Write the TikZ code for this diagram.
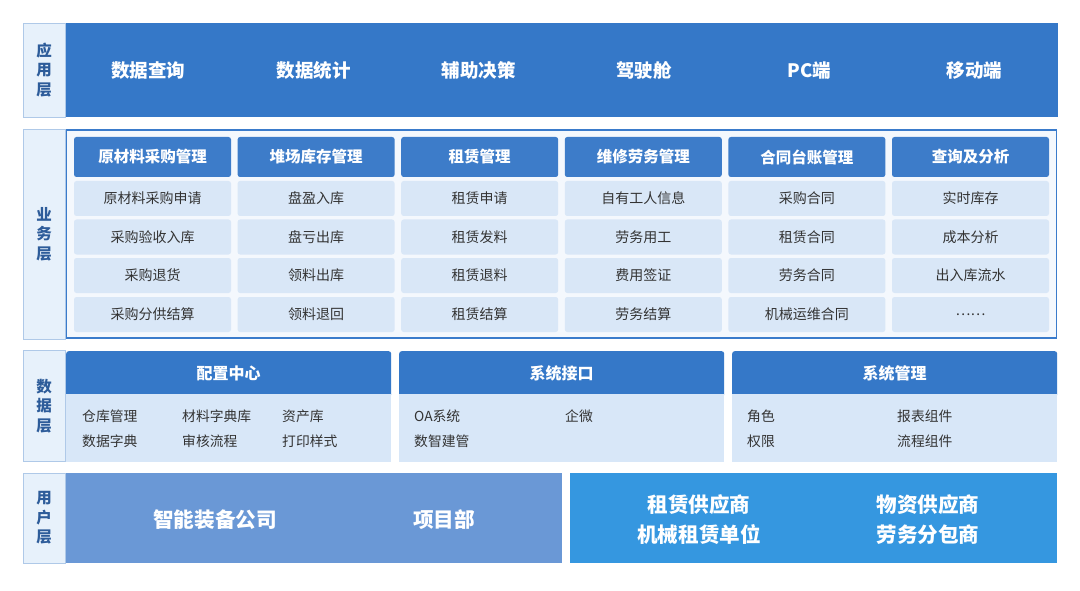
\documentclass[tikz,border=0pt]{standalone}
\usepackage{fontspec}
\setmainfont{Noto Sans CJK SC}
\definecolor{appblue}{HTML}{3578C8}
\definecolor{hdrblue}{HTML}{3D7CC9}
\definecolor{cellfill}{HTML}{D9E7F7}
\definecolor{framefill}{HTML}{F4F8FD}
\definecolor{frameline}{HTML}{3A7BCB}
\definecolor{lblfill}{HTML}{E7F1FB}
\definecolor{lblline}{HTML}{AFC9E8}
\definecolor{lbltext}{HTML}{2D5C9A}
\definecolor{bodyfill}{HTML}{D8E7F8}
\definecolor{userleft}{HTML}{6A98D6}
\definecolor{userright}{HTML}{3597E0}
\definecolor{celltext}{HTML}{333333}
\tikzset{
  lbl/.style={draw=lblline, fill=lblfill, line width=0.9pt, minimum width=42pt, minimum height=#1,
    text=lbltext, font=\fontsize{15.5}{19.5}\selectfont\bfseries, align=center, inner sep=0pt},
  band/.style={fill=#1, inner sep=0pt, anchor=north west},
  apptext/.style={text=white, font=\fontsize{18.5}{22}\selectfont\bfseries},
  hdrbox/.style={fill=hdrblue, rounded corners=2.5pt, minimum width=157pt, minimum height=40pt,
    inner sep=0pt, text=white, font=\fontsize{15.5}{18}\selectfont\bfseries},
  cellbox/.style={fill=cellfill, rounded corners=2.5pt, minimum width=157pt, minimum height=35pt,
    inner sep=0pt, text=celltext, font=\fontsize{14}{16}\selectfont},
  dhdr/.style={fill=appblue, rounded corners=2.5pt, minimum width=325pt, minimum height=46pt,
    inner sep=0pt, anchor=north west},
  dbody/.style={fill=bodyfill, minimum width=325pt, minimum height=68pt, inner sep=0pt, anchor=north west},
  dhdrtext/.style={text=white, font=\fontsize{16}{19}\selectfont\bfseries},
  ditem/.style={text=celltext, font=\fontsize{13.8}{16}\selectfont, anchor=west, inner sep=0pt},
  usertext/.style={text=white, font=\fontsize{20.6}{30}\selectfont\bfseries, align=center},
}
\begin{document}
\begin{tikzpicture}[x=1pt,y=-1pt]
\useasboundingbox[fill=white] (0,0) rectangle (1080,591);

% ---------- application layer ----------
\node[lbl=94pt] (l1) at (44,70) {应\\用\\层};
\node[band=appblue, minimum width=992pt, minimum height=94pt] (app) at (65.5,23) {};
\foreach \t [count=\i from 0] in {数据查询,数据统计,辅助决策,驾驶舱,PC端,移动端}
  \node[apptext] (a\i) at ({65.5+82.7+\i*165.3},70.5) {\t};

% ---------- business layer ----------
\node[lbl=210pt] (l2) at (44,234) {业\\务\\层};
\node[draw=frameline, line width=1.8pt, fill=framefill, minimum width=990pt, minimum height=208pt,
  inner sep=0pt] (frame) at (561.5,234) {};
\foreach \h [count=\i from 0] in {原材料采购管理,堆场库存管理,租赁管理,维修劳务管理,合同台账管理,查询及分析}
  \node[hdrbox] (h\i) at ({74+78.5+\i*163.6},157) {\h};
\foreach \a/\b/\c/\d [count=\i from 0] in {
  原材料采购申请/采购验收入库/采购退货/采购分供结算,
  盘盈入库/盘亏出库/领料出库/领料退回,
  租赁申请/租赁发料/租赁退料/租赁结算,
  自有工人信息/劳务用工/费用签证/劳务结算,
  采购合同/租赁合同/劳务合同/机械运维合同,
  实时库存/成本分析/出入库流水/……}{
  \node[cellbox] (c\i-1) at ({74+78.5+\i*163.6},198.5) {\a};
  \node[cellbox] (c\i-2) at ({74+78.5+\i*163.6},237) {\b};
  \node[cellbox] (c\i-3) at ({74+78.5+\i*163.6},275.5) {\c};
  \node[cellbox] (c\i-4) at ({74+78.5+\i*163.6},314.5) {\d};
}

% ---------- data layer ----------
\node[lbl=111pt] (l3) at (44,406) {数\\据\\层};
\foreach \x/\t [count=\i from 1] in {66/配置中心,399/系统接口,732/系统管理}{
  \node[dhdr] (dh\i) at (\x,351) {};
  \node[dbody] (db\i) at (\x,394) {};
  \node[dhdrtext] (dt\i) at ({\x+162.5},373) {\t};
}
\node[ditem] (d1a) at (82,416) {仓库管理};
\node[ditem] (d1b) at (182,416) {材料字典库};
\node[ditem] (d1c) at (282,416) {资产库};
\node[ditem] (d1d) at (82,441) {数据字典};
\node[ditem] (d1e) at (182,441) {审核流程};
\node[ditem] (d1f) at (282,441) {打印样式};
\node[ditem] (d2a) at (414,416) {OA系统};
\node[ditem] (d2b) at (565,416) {企微};
\node[ditem] (d2c) at (414,441) {数智建管};
\node[ditem] (d3a) at (747,416) {角色};
\node[ditem] (d3b) at (897,416) {报表组件};
\node[ditem] (d3c) at (747,441) {权限};
\node[ditem] (d3d) at (897,441) {流程组件};

% ---------- user layer ----------
\node[lbl=90pt] (l4) at (44,518) {用\\户\\层};
\node[band=userleft, minimum width=496pt, minimum height=90pt] (ul) at (66,473) {};
\node[band=userright, minimum width=487pt, minimum height=90pt] (ur) at (570,473) {};
\node[usertext] (u1) at (215,520) {智能装备公司};
\node[usertext] (u2) at (444,520) {项目部};
\node[usertext] (u3) at (699,520) {租赁供应商\\机械租赁单位};
\node[usertext] (u4) at (928,520) {物资供应商\\劳务分包商};
\end{tikzpicture}
\end{document}
